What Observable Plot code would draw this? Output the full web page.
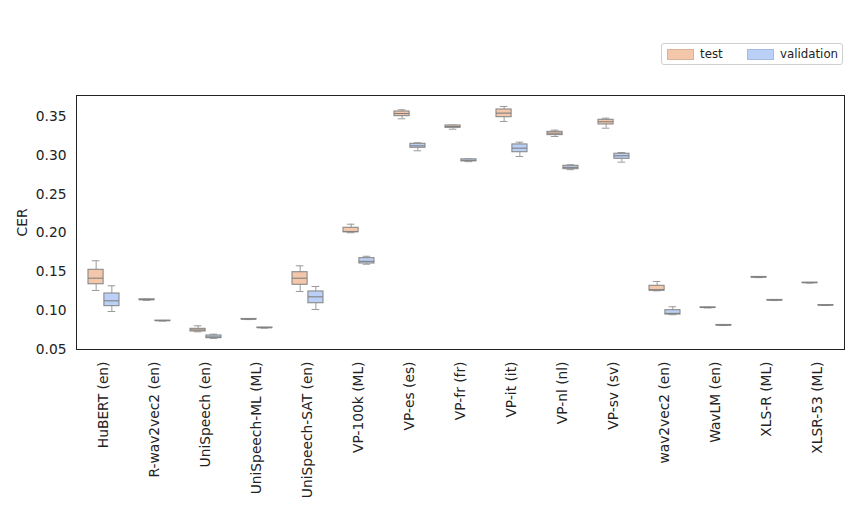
<!DOCTYPE html>
<html>
<head>
<meta charset="utf-8">
<script src="https://cdn.jsdelivr.net/npm/d3@7"></script>
<script src="https://cdn.jsdelivr.net/npm/@observablehq/plot@0.6"></script>
<style>
  body { margin: 0; background: #fff; font-family: "DejaVu Sans", sans-serif; }
  #wrap { position: relative; width: 859px; }
  #legend { height: 80px; position: relative; }
  .lg { position: absolute; left: 661px; top: 43px; width: 180px; height: 20px; border: 1px solid #d0d0d0; border-radius: 3px; font-size: 11.8px; color: #222; }
  .sw { position: absolute; top: 5px; width: 25px; height: 9px; }
  .tx { position: absolute; top: 1px; line-height: 18px; }
</style>
</head>
<body>
<div id="wrap">
  <div id="legend">
    <div class="lg">
      <div class="sw" style="left:5px;background:#f4c7aa;border:0.5px solid #d9b49a"></div>
      <div class="tx" style="left:38px">test</div>
      <div class="sw" style="left:85px;background:#bbd0f6;border:0.5px solid #a6bbe0"></div>
      <div class="tx" style="left:118px">validation</div>
    </div>
  </div>
  <div id="chart"></div>
</div>
<script>
const categories = ["HuBERT (en)", "R-wav2vec2 (en)", "UniSpeech (en)", "UniSpeech-ML (ML)", "UniSpeech-SAT (en)", "VP-100k (ML)", "VP-es (es)", "VP-fr (fr)", "VP-it (it)", "VP-nl (nl)", "VP-sv (sv)", "wav2vec2 (en)", "WavLM (en)", "XLS-R (ML)", "XLSR-53 (ML)"];

const testMin = [0.1260, 0.1133, 0.0728, 0.0885, 0.1247, 0.2003, 0.3470, 0.3336, 0.3436, 0.3242, 0.3349, 0.1255, 0.1035, 0.1425, 0.1355];
const testQ1  = [0.1340, 0.1136, 0.0732, 0.0887, 0.1333, 0.2010, 0.3504, 0.3354, 0.3491, 0.3260, 0.3397, 0.1256, 0.1037, 0.1428, 0.1357];
const testMed = [0.1418, 0.1141, 0.0752, 0.0890, 0.1418, 0.2017, 0.3538, 0.3370, 0.3543, 0.3285, 0.3432, 0.1270, 0.1040, 0.1431, 0.1359];
const testQ3  = [0.1526, 0.1146, 0.0766, 0.0893, 0.1495, 0.2067, 0.3564, 0.3384, 0.3590, 0.3302, 0.3457, 0.1320, 0.1043, 0.1434, 0.1361];
const testMax = [0.1642, 0.1149, 0.0805, 0.0895, 0.1577, 0.2113, 0.3586, 0.3388, 0.3629, 0.3324, 0.3478, 0.1376, 0.1045, 0.1437, 0.1363];

const valMin = [0.0989, 0.0866, 0.0643, 0.0775, 0.1015, 0.1598, 0.3058, 0.2918, 0.2985, 0.2815, 0.2912, 0.0948, 0.0808, 0.1130, 0.1067];
const valQ1  = [0.1058, 0.0868, 0.0646, 0.0777, 0.1096, 0.1607, 0.3097, 0.2922, 0.3040, 0.2822, 0.2955, 0.0950, 0.0810, 0.1132, 0.1068];
const valMed = [0.1127, 0.0870, 0.0662, 0.0780, 0.1178, 0.1635, 0.3122, 0.2935, 0.3092, 0.2845, 0.2994, 0.0965, 0.0813, 0.1135, 0.1070];
const valQ3  = [0.1221, 0.0872, 0.0680, 0.0783, 0.1247, 0.1676, 0.3148, 0.2948, 0.3140, 0.2865, 0.3020, 0.1006, 0.0816, 0.1138, 0.1072];
const valMax = [0.1320, 0.0874, 0.0697, 0.0785, 0.1311, 0.1700, 0.3161, 0.2952, 0.3169, 0.2878, 0.3036, 0.1050, 0.0818, 0.1140, 0.1073];

const yTicks = [0.05, 0.10, 0.15, 0.20, 0.25, 0.30, 0.35];

const mk = (mn, q1, md, q3, mx) => categories.map((c, i) => ({cat: c, min: mn[i], q1: q1[i], med: md[i], q3: q3[i], max: mx[i]}));
const testRows = mk(testMin, testQ1, testMed, testQ3, testMax);
const valRows = mk(valMin, valQ1, valMed, valQ3, valMax);

const edge = "#8a8a8a";
function boxMarks(rows, fill, side) {
  const off = 7.85 * side;
  const boxIn = side < 0 ? {insetLeft: 10, insetRight: 25.9} : {insetLeft: 25.9, insetRight: 10};
  const capIn = side < 0 ? {insetLeft: 13.8, insetRight: 29.6} : {insetLeft: 29.6, insetRight: 13.8};
  return [
    Plot.ruleX(rows, {x: "cat", y1: "min", y2: "max", dx: off, stroke: "#9a9a9a", strokeWidth: 1}),
    Plot.tickY(rows, {x: "cat", y: "min", stroke: "#9a9a9a", strokeWidth: 1, ...capIn}),
    Plot.tickY(rows, {x: "cat", y: "max", stroke: "#9a9a9a", strokeWidth: 1, ...capIn}),
    Plot.barY(rows, {x: "cat", y1: "q1", y2: "q3", fill: fill, stroke: edge, strokeWidth: 1.1, ...boxIn}),
    Plot.tickY(rows, {x: "cat", y: "med", stroke: "#808080", strokeWidth: 1.1, ...boxIn})
  ];
}

const chart = Plot.plot({
  width: 859,
  height: 435,
  marginTop: 15,
  marginBottom: 166,
  marginLeft: 76,
  marginRight: 15,
  style: {fontFamily: "DejaVu Sans", fontSize: "13.8px", color: "#222", background: "#fff"},
  x: {domain: categories, padding: 0, label: null},
  y: {domain: [0.05, 0.377], label: null},
  marks: [
    Plot.axisX({tickRotate: -90, tickSize: 0, tickPadding: 12, label: null}),
    Plot.axisY({ticks: yTicks, tickFormat: d3.format(".2f"), tickSize: 0, tickPadding: 10, label: "CER", labelAnchor: "center", labelArrow: "none", labelOffset: 59.5}),
    ...boxMarks(testRows, "#f4c7aa", -1),
    ...boxMarks(valRows, "#bbd0f6", 1),
    Plot.frame({stroke: "#222", strokeWidth: 1})
  ]
});
document.getElementById("chart").appendChild(chart);
</script>
</body>
</html>
